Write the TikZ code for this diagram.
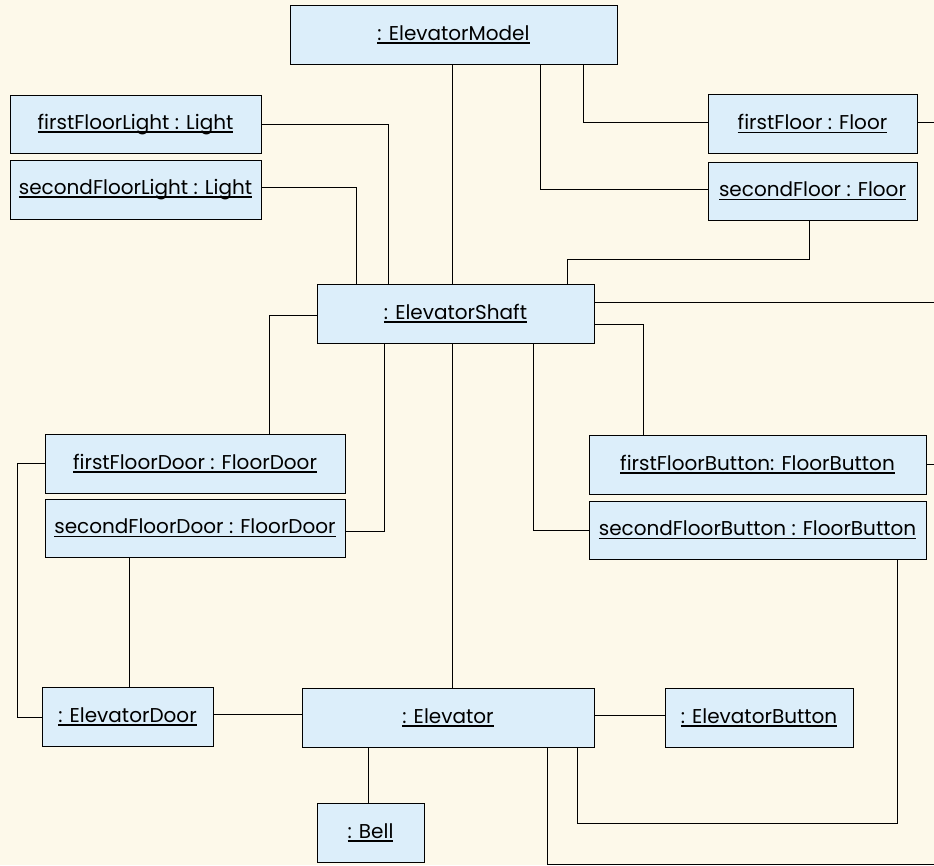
\documentclass[tikz,border=0pt]{standalone}
\usepackage{fontspec}
\setmainfont{Poppins}
\usepackage{tikz}
\usetikzlibrary{positioning, calc}
\definecolor{paper}{HTML}{FDF9EA}
\definecolor{objfill}{HTML}{DCEEFA}
\newcommand{\objlabel}[1]{\setbox0\hbox{#1}\rlap{\rule[-3.5pt]{\wd0}{1.6pt}}\box0}

\begin{document}
\begin{tikzpicture}[
    x=1pt, y=-1pt,
    obj/.style={draw=black, fill=objfill, line width=1pt, inner sep=0pt,
                 font=\fontsize{20}{22}\selectfont},
    link/.style={line width=1pt, black},
]
    \useasboundingbox[fill=paper] (0,0) rectangle (934,865);

    % Objects
    \node[obj, minimum width=327pt, minimum height=59pt] (model) at (453.5, 34.5) {\objlabel{: ElevatorModel}};
    \node[obj, minimum width=251pt, minimum height=58pt] (fflight) at (135.5, 124.5) {\objlabel{firstFloorLight : Light}};
    \node[obj, minimum width=251pt, minimum height=59pt] (sflight) at (135.5, 189.5) {\objlabel{secondFloorLight : Light}};
    \node[obj, minimum width=209pt, minimum height=59pt] (ffloor) at (812.5, 124) {\objlabel{firstFloor : Floor}};
    \node[obj, minimum width=209pt, minimum height=58pt] (sfloor) at (812.5, 191) {\objlabel{secondFloor : Floor}};
    \node[obj, minimum width=277pt, minimum height=59pt] (shaft) at (455.5, 313.5) {\objlabel{: ElevatorShaft}};
    \node[obj, minimum width=300pt, minimum height=59pt] (ffdoor) at (195, 463.5) {\objlabel{firstFloorDoor : FloorDoor}};
    \node[obj, minimum width=300pt, minimum height=58pt] (sfdoor) at (195, 528) {\objlabel{secondFloorDoor : FloorDoor}};
    \node[obj, minimum width=337pt, minimum height=59pt] (ffbutton) at (757.5, 464.5) {\objlabel{firstFloorButton: FloorButton}};
    \node[obj, minimum width=337pt, minimum height=58pt] (sfbutton) at (757.5, 530) {\objlabel{secondFloorButton : FloorButton}};
    \node[obj, minimum width=171pt, minimum height=59pt] (eldoor) at (127.5, 716.5) {\objlabel{: ElevatorDoor}};
    \node[obj, minimum width=292pt, minimum height=59pt] (elevator) at (448, 717.5) {\objlabel{: Elevator}};
    \node[obj, minimum width=188pt, minimum height=59pt] (elbutton) at (759, 717.5) {\objlabel{: ElevatorButton}};
    \node[obj, minimum width=107pt, minimum height=59pt] (bell) at (370.5, 832.5) {\objlabel{: Bell}};

    % Free ends at the right border
    \coordinate (edgeA) at (934, 122);
    \coordinate (edgeB) at (934, 302);
    \coordinate (edgeC) at (934, 464);
    \coordinate (edgeD) at (934, 864);

    % Links
    \draw[link] (model.south -| 452,0) -- (shaft.north -| 452,0);
    \draw[link] (model.south -| 583,0) |- (ffloor.west |- 0,122);
    \draw[link] (model.south -| 540,0) |- (sfloor.west |- 0,189);
    \draw[link] (fflight.east |- 0,124) -| (shaft.north -| 388,0);
    \draw[link] (sflight.east |- 0,187) -| (shaft.north -| 356,0);
    \draw[link] (sfloor.south -| 809,0) -- (809,259) -| (shaft.north -| 567,0);
    \draw[link] (ffloor.east |- edgeA) -- (edgeA);
    \draw[link] (shaft.east |- edgeB) -- (edgeB);
    \draw[link] (shaft.east |- 0,324) -| (ffbutton.north -| 643,0);
    \draw[link] (shaft.south -| 533,0) |- (sfbutton.west |- 0,530);
    \draw[link] (shaft.west |- 0,315) -| (ffdoor.north -| 269,0);
    \draw[link] (shaft.south -| 384,0) |- (sfdoor.east |- 0,531);
    \draw[link] (shaft.south -| 452,0) -- (elevator.north -| 452,0);
    \draw[link] (ffbutton.east |- edgeC) -- (edgeC);
    \draw[link] (sfbutton.south -| 897,0) -- (897,823) -| (elevator.south -| 577,0);
    \draw[link] (elevator.south -| 547,0) |- (edgeD);
    \draw[link] (ffdoor.west |- 0,463) -| (17,717) -- (eldoor.west |- 0,717);
    \draw[link] (sfdoor.south -| 129,0) -- (eldoor.north -| 129,0);
    \draw[link] (eldoor.east |- 0,714) -- (elevator.west |- 0,714);
    \draw[link] (elevator.east |- 0,715) -- (elbutton.west |- 0,715);
    \draw[link] (elevator.south -| 368,0) -- (bell.north -| 368,0);
\end{tikzpicture}
\end{document}
